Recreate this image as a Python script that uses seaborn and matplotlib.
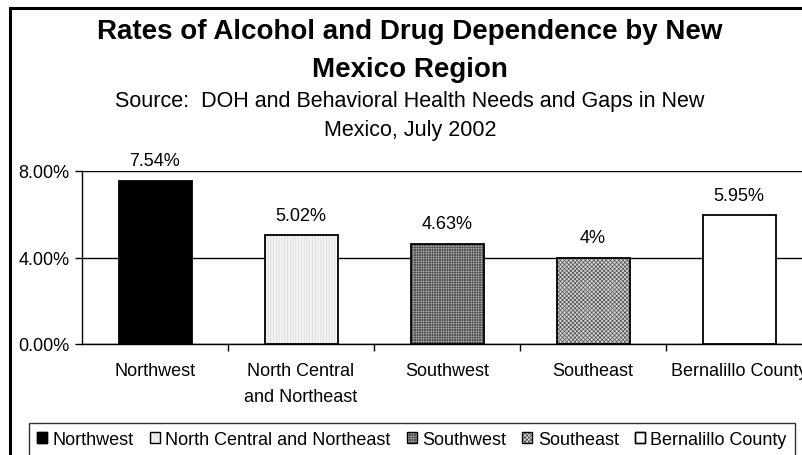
import matplotlib
matplotlib.use("Agg")
import matplotlib.pyplot as plt
from matplotlib.patches import Patch, Rectangle
from matplotlib.ticker import FixedLocator
import seaborn as sns
import pandas as pd

regions = ["Northwest", "North Central and Northeast", "Southwest", "Southeast", "Bernalillo County"]
tick_labels = ["Northwest", "North Central\nand Northeast", "Southwest", "Southeast", "Bernalillo County"]
rates = [0.0754, 0.0502, 0.0463, 0.04, 0.0595]
value_labels = ["7.54%", "5.02%", "4.63%", "4%", "5.95%"]
y_ticks = [0.0, 0.04, 0.08]
y_tick_labels = ["0.00%", "4.00%", "8.00%"]

face_colors = ["#000000", "#f4f4f4", "#e6e6e6", "#d4d4d4", "#ffffff"]
hatches = [None, "|" * 6, "+" * 10, "x" * 8, None]
hatch_colors = ["#000000", "#d4d4d4", "#555555", "#505050", "#000000"]

sns.set_theme(style="white")
plt.rcParams["font.family"] = ["Liberation Sans", "DejaVu Sans"]
plt.rcParams["hatch.linewidth"] = 0.5
for k in ["text.color", "axes.labelcolor", "xtick.color", "ytick.color"]:
    plt.rcParams[k] = "black"

fig = plt.figure(figsize=(8.02, 4.56), dpi=100)
fig.patch.set_facecolor("white")

ax = fig.add_axes([82 / 802, (456 - 345) / 456, 730 / 802, 173 / 456])
df = pd.DataFrame({"region": regions, "rate": rates})
sns.barplot(data=df, x="region", y="rate", hue="region", palette=face_colors,
            legend=False, width=0.5, ax=ax, edgecolor="black", linewidth=1.3,
            saturation=1, zorder=3)

# hatch colour follows the edge colour in matplotlib, so outline separately
for p, h, hc in list(zip(ax.patches, hatches, hatch_colors)):
    if h:
        p.set_hatch(h)
        p.set_edgecolor(hc)
        p.set_linewidth(0)
        outline = Rectangle(p.get_xy(), p.get_width(), p.get_height(), fill=False,
                            edgecolor="black", linewidth=1.3, zorder=4)
        ax.add_patch(outline)

for i, (v, lab) in enumerate(zip(rates, value_labels)):
    ax.annotate(lab, (i, v), xytext=(0, 20), textcoords="offset pixels",
                ha="center", va="center", fontsize=13)

ax.set_ylim(0, 0.08)
ax.set_xlim(-0.5, 4.5)
ax.set_yticks(y_ticks)
ax.set_yticklabels(y_tick_labels, fontsize=13)
ax.set_xticks(range(len(regions)))
ax.set_xticklabels(tick_labels, fontsize=13, linespacing=1.7)
ax.tick_params(axis="x", which="major", length=0, pad=13)
ax.xaxis.set_minor_locator(FixedLocator([0.5, 1.5, 2.5, 3.5]))
ax.tick_params(axis="x", which="minor", length=5, width=1, color="black", direction="out", bottom=True)
ax.tick_params(axis="y", length=5, width=1, color="black", direction="out", left=True, pad=4)
ax.set_xlabel("")
ax.set_ylabel("")
ax.yaxis.grid(True, color="black", linewidth=1)
ax.set_axisbelow(True)
for s in ["top", "right"]:
    ax.spines[s].set_visible(False)
for s in ["left", "bottom"]:
    ax.spines[s].set_color("black")
    ax.spines[s].set_linewidth(1)

# chart area border (cropped on the right and bottom)
fig.patches.append(Rectangle((10 / 802, -0.1), 1.2, (456 - 9) / 456 + 0.1,
                             transform=fig.transFigure, fill=False,
                             edgecolor="black", linewidth=2.2, zorder=0))

cx = 410 / 802
fig.text(cx, 1 - 32 / 456, "Rates of Alcohol and Drug Dependence by New", ha="center",
         va="center", fontsize=20, fontweight="bold")
fig.text(cx, 1 - 70 / 456, "Mexico Region", ha="center", va="center",
         fontsize=20, fontweight="bold")
fig.text(cx, 1 - 102 / 456, "Source:  DOH and Behavioral Health Needs and Gaps in New",
         ha="center", va="center", fontsize=15.5)
fig.text(cx, 1 - 131 / 456, "Mexico, July 2002", ha="center", va="center", fontsize=15.5)

handles = []
for fc, h, hc in zip(face_colors, hatches, hatch_colors):
    fill = Patch(facecolor=fc, edgecolor=hc if h else "black", hatch=h, linewidth=0 if h else 1)
    edge = Patch(facecolor="none", edgecolor="black", linewidth=1)
    handles.append((fill, edge))
leg = fig.legend(handles, regions, loc="upper center",
                 bbox_to_anchor=(412 / 802, 1 - 424 / 456),
                 ncol=5, fontsize=13, frameon=True, fancybox=False,
                 handlelength=0.55, handleheight=0.55, handletextpad=0.3,
                 columnspacing=0.9, borderpad=0.45, borderaxespad=0)
leg.get_frame().set_edgecolor("black")
leg.get_frame().set_linewidth(1)

fig.savefig("out.png", dpi=100, facecolor="white")
